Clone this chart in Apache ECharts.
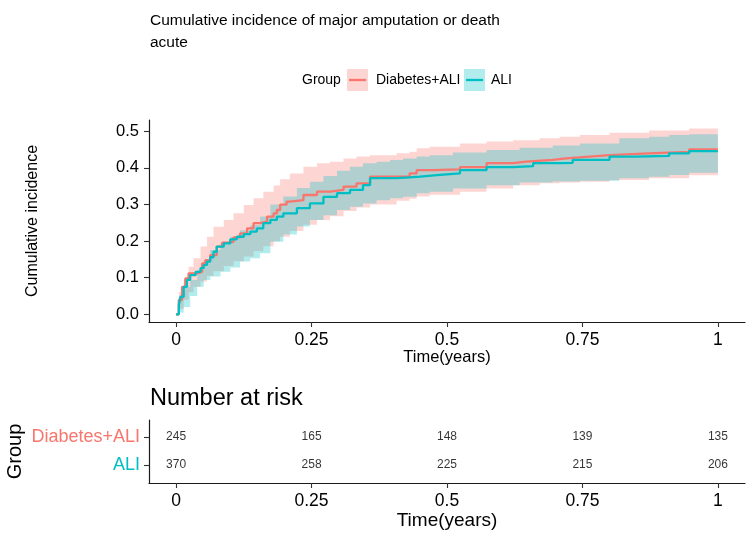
<!DOCTYPE html>
<html>
<head>
<meta charset="utf-8">
<script src="https://cdn.jsdelivr.net/npm/echarts@6/dist/echarts.min.js"></script>
<style>html,body{margin:0;padding:0;background:#fff}#c{width:750px;height:535px}</style>
</head>
<body>
<div id="c"></div>
<script>
// ---- data ----
const groups = ['Diabetes+ALI', 'ALI'];
const colors = ['#F8766D', '#00BFC4'];
const bandColors = ['rgba(248,118,109,0.3)', 'rgba(0,191,196,0.3)'];
const xTicks = [0, 0.25, 0.5, 0.75, 1];
const yTicks = [0, 0.1, 0.2, 0.3, 0.4, 0.5];

// Diabetes+ALI cumulative incidence (step points)
const diabT = [0, 0.005, 0.011, 0.017, 0.023, 0.039, 0.048, 0.054, 0.063, 0.075, 0.085, 0.094, 0.106, 0.118, 0.131, 0.143, 0.155, 0.168, 0.180, 0.186, 0.192, 0.204, 0.210, 0.235, 0.260, 0.284, 0.309, 0.333, 0.358, 0.431, 0.444, 0.474, 0.524, 0.573, 0.622, 0.646, 0.695, 0.720, 0.763, 0.800, 0.873, 0.910, 0.947, 1.0];
const diabV = [0, 0.039, 0.075, 0.098, 0.112, 0.116, 0.139, 0.148, 0.162, 0.185, 0.196, 0.198, 0.210, 0.221, 0.235, 0.249, 0.253, 0.267, 0.276, 0.285, 0.300, 0.308, 0.312, 0.326, 0.335, 0.340, 0.349, 0.358, 0.376, 0.385, 0.394, 0.396, 0.402, 0.413, 0.417, 0.422, 0.426, 0.431, 0.435, 0.440, 0.442, 0.444, 0.451, 0.451];
// ALI cumulative incidence (step points)
const aliT = [0, 0.005, 0.008, 0.014, 0.020, 0.026, 0.036, 0.045, 0.051, 0.057, 0.063, 0.069, 0.075, 0.088, 0.100, 0.112, 0.125, 0.137, 0.149, 0.161, 0.174, 0.186, 0.198, 0.223, 0.247, 0.272, 0.297, 0.321, 0.345, 0.358, 0.407, 0.431, 0.450, 0.487, 0.524, 0.573, 0.622, 0.659, 0.708, 0.732, 0.800, 0.849, 0.910, 0.947, 1.0];
const aliV = [0, 0.025, 0.048, 0.075, 0.094, 0.107, 0.116, 0.126, 0.135, 0.144, 0.156, 0.171, 0.185, 0.194, 0.205, 0.212, 0.219, 0.226, 0.235, 0.249, 0.258, 0.267, 0.276, 0.290, 0.303, 0.321, 0.331, 0.340, 0.353, 0.372, 0.374, 0.376, 0.381, 0.385, 0.394, 0.402, 0.405, 0.413, 0.414, 0.422, 0.431, 0.433, 0.440, 0.446, 0.446];

// confidence bands
const diabBandT  = [0, 0.005, 0.014, 0.023, 0.032, 0.045, 0.057, 0.069, 0.088, 0.106, 0.125, 0.143, 0.161, 0.180, 0.192, 0.210, 0.235, 0.260, 0.284, 0.309, 0.333, 0.358, 0.407, 0.431, 0.444, 0.468, 0.524, 0.573, 0.622, 0.671, 0.708, 0.745, 0.800, 0.873, 0.947, 1.0];
const diabBandHi = [0, 0.060, 0.094, 0.130, 0.153, 0.185, 0.212, 0.239, 0.258, 0.276, 0.299, 0.317, 0.335, 0.352, 0.369, 0.385, 0.403, 0.413, 0.417, 0.426, 0.431, 0.435, 0.440, 0.444, 0.454, 0.458, 0.467, 0.472, 0.476, 0.481, 0.485, 0.490, 0.496, 0.502, 0.508, 0.508];
const diabBandLo = [0, 0.015, 0.040, 0.060, 0.075, 0.090, 0.105, 0.118, 0.132, 0.145, 0.158, 0.172, 0.186, 0.200, 0.212, 0.228, 0.245, 0.258, 0.268, 0.282, 0.292, 0.300, 0.310, 0.316, 0.322, 0.327, 0.335, 0.344, 0.353, 0.358, 0.360, 0.362, 0.367, 0.372, 0.380, 0.385];
const aliBandT  = [0, 0.005, 0.014, 0.026, 0.039, 0.051, 0.063, 0.082, 0.100, 0.118, 0.137, 0.155, 0.174, 0.198, 0.223, 0.247, 0.272, 0.297, 0.321, 0.345, 0.370, 0.395, 0.419, 0.444, 0.468, 0.511, 0.573, 0.634, 0.695, 0.745, 0.818, 0.873, 0.910, 0.947, 1.0];
const aliBandHi = [0, 0.045, 0.075, 0.094, 0.121, 0.148, 0.176, 0.194, 0.212, 0.230, 0.244, 0.267, 0.300, 0.322, 0.345, 0.362, 0.378, 0.392, 0.403, 0.413, 0.417, 0.422, 0.426, 0.431, 0.435, 0.442, 0.449, 0.455, 0.461, 0.467, 0.481, 0.485, 0.490, 0.492, 0.493];
const aliBandLo = [0, 0.005, 0.020, 0.050, 0.075, 0.094, 0.103, 0.116, 0.128, 0.144, 0.153, 0.167, 0.198, 0.218, 0.240, 0.258, 0.271, 0.285, 0.294, 0.303, 0.312, 0.317, 0.321, 0.331, 0.335, 0.344, 0.353, 0.360, 0.363, 0.365, 0.372, 0.376, 0.381, 0.387, 0.392];

// number at risk
const riskTimes = [0, 0.25, 0.5, 0.75, 1];
const riskDiab = [245, 165, 148, 139, 135];
const riskAli  = [370, 258, 225, 215, 206];

// ---- build ----
const FONT = 'Liberation Sans, Arial, sans-serif';
const zip = (a, b) => a.map((v, i) => [v, b[i]]);
function bandSeries(T, lo, hi, fill) {
  return {
    type: 'custom', xAxisIndex: 0, yAxisIndex: 0, silent: true,
    data: T.map((t, i) => [t, lo[i], hi[i]]),
    encode: { x: 0, y: [1, 2] },
    renderItem: (params, api) => {
      if (params.dataIndex !== 0) return null;
      const n = T.length, up = [], dn = [];
      for (let i = 0; i < n; i++) {
        up.push(api.coord([T[i], hi[i]]));
        if (i < n - 1) up.push(api.coord([T[i + 1], hi[i]]));
      }
      for (let i = n - 1; i >= 0; i--) {
        if (i < n - 1) dn.push(api.coord([T[i + 1], lo[i]]));
        dn.push(api.coord([T[i], lo[i]]));
      }
      return { type: 'polygon', shape: { points: up.concat(dn) }, style: { fill: fill, stroke: null } };
    }
  };
}
function curve(T, V, color) {
  return { type: 'line', xAxisIndex: 0, yAxisIndex: 0, step: 'end', symbol: 'none',
    lineStyle: { color: color, width: 2.3 }, data: zip(T, V), silent: true };
}
// risk table rows: first group on top
const rowOf = g => groups.length - groups.indexOf(g);
const riskData = [];
riskTimes.forEach((t, i) => {
  riskData.push([t, rowOf(groups[0]), riskDiab[i]]);
  riskData.push([t, rowOf(groups[1]), riskAli[i]]);
});
const rowTicks = groups.map(rowOf);

const axisLine = { show: true, onZero: false, lineStyle: { color: '#1a1a1a', width: 1.2 } };
const axisTick = { show: true, length: 5, lineStyle: { color: '#333', width: 1.1 } };

const option = {
  animation: false,
  backgroundColor: '#fff',
  title: [
    { text: 'Cumulative incidence of major amputation or death\nacute', left: 145, top: 5,
      textStyle: { fontFamily: FONT, fontSize: 15.5, fontWeight: 'normal', color: '#000', lineHeight: 22 } },
    { text: 'Number at risk', left: 145, top: 382,
      textStyle: { fontFamily: FONT, fontSize: 23.5, fontWeight: 'normal', color: '#000' } }
  ],
  grid: [
    { left: 149, top: 120, right: 5, height: 202, outerBoundsMode: 'none', containLabel: false },
    { left: 149, top: 420, right: 5, height: 63, outerBoundsMode: 'none', containLabel: false }
  ],
  xAxis: [
    { type: 'value', gridIndex: 0, min: -0.05, max: 1.05, splitLine: { show: false },
      axisLine: axisLine, axisTick: Object.assign({ customValues: xTicks }, axisTick),
      axisLabel: { customValues: xTicks, formatter: v => String(v), fontFamily: FONT, fontSize: 17.5, color: '#000', margin: 9 },
      name: 'Time(years)', nameLocation: 'middle', nameGap: 27, nameMoveOverlap: false,
      nameTextStyle: { fontFamily: FONT, fontSize: 16.5, color: '#000' } },
    { type: 'value', gridIndex: 1, min: -0.05, max: 1.05, splitLine: { show: false },
      axisLine: axisLine, axisTick: Object.assign({ customValues: xTicks }, axisTick),
      axisLabel: { customValues: xTicks, formatter: v => String(v), fontFamily: FONT, fontSize: 17.5, color: '#000', margin: 9 },
      name: 'Time(years)', nameLocation: 'middle', nameGap: 28, nameMoveOverlap: false,
      nameTextStyle: { fontFamily: FONT, fontSize: 19, color: '#000' } }
  ],
  yAxis: [
    { type: 'value', gridIndex: 0, min: -0.021, max: 0.531, splitLine: { show: false },
      axisLine: axisLine, axisTick: Object.assign({ customValues: yTicks }, axisTick),
      axisLabel: { customValues: yTicks, formatter: v => v.toFixed(1), fontFamily: FONT, fontSize: 16.5, color: '#000', margin: 10 },
      name: 'Cumulative incidence', nameLocation: 'middle', nameGap: 108, nameRotate: 90, nameMoveOverlap: false,
      nameTextStyle: { fontFamily: FONT, fontSize: 16, color: '#000' } },
    { type: 'value', gridIndex: 1, min: 0.357, max: 2.607, splitLine: { show: false },
      axisLine: axisLine, axisTick: Object.assign({ customValues: rowTicks }, axisTick),
      axisLabel: { customValues: rowTicks, fontFamily: FONT, fontSize: 18, margin: 9,
        formatter: v => groups[groups.length - Math.round(v)],
        color: v => colors[groups.length - Math.round(v)] },
      name: 'Group', nameLocation: 'middle', nameGap: 124, nameRotate: 90, nameMoveOverlap: false,
      nameTextStyle: { fontFamily: FONT, fontSize: 20, color: '#000' } }
  ],
  series: [
    bandSeries(diabBandT, diabBandLo, diabBandHi, bandColors[0]),
    curve(diabT, diabV, colors[0]),
    bandSeries(aliBandT, aliBandLo, aliBandHi, bandColors[1]),
    curve(aliT, aliV, colors[1]),
    { type: 'scatter', xAxisIndex: 1, yAxisIndex: 1, symbolSize: 1,
      itemStyle: { color: 'transparent' }, data: riskData, silent: true,
      label: { show: true, position: 'inside', formatter: p => String(p.value[2]),
        fontFamily: FONT, fontSize: 12, color: '#000' } }
  ],
  graphic: [
    { type: 'text', left: 302, top: 73, style: { text: 'Group', fontFamily: FONT, fontSize: 14, fill: '#000' } },
    { type: 'rect', shape: { x: 347, y: 69, width: 21, height: 22 }, style: { fill: bandColors[0] } },
    { type: 'line', shape: { x1: 349, y1: 80, x2: 366, y2: 80 }, style: { stroke: colors[0], lineWidth: 2.3 } },
    { type: 'text', left: 376, top: 73, style: { text: 'Diabetes+ALI', fontFamily: FONT, fontSize: 14, fill: '#000' } },
    { type: 'rect', shape: { x: 464, y: 69, width: 21, height: 22 }, style: { fill: bandColors[1] } },
    { type: 'line', shape: { x1: 466, y1: 80, x2: 483, y2: 80 }, style: { stroke: colors[1], lineWidth: 2.3 } },
    { type: 'text', left: 491, top: 73, style: { text: 'ALI', fontFamily: FONT, fontSize: 14, fill: '#000' } }
  ]
};
echarts.init(document.getElementById('c'), null, { renderer: 'canvas' }).setOption(option);
</script>
</body>
</html>
